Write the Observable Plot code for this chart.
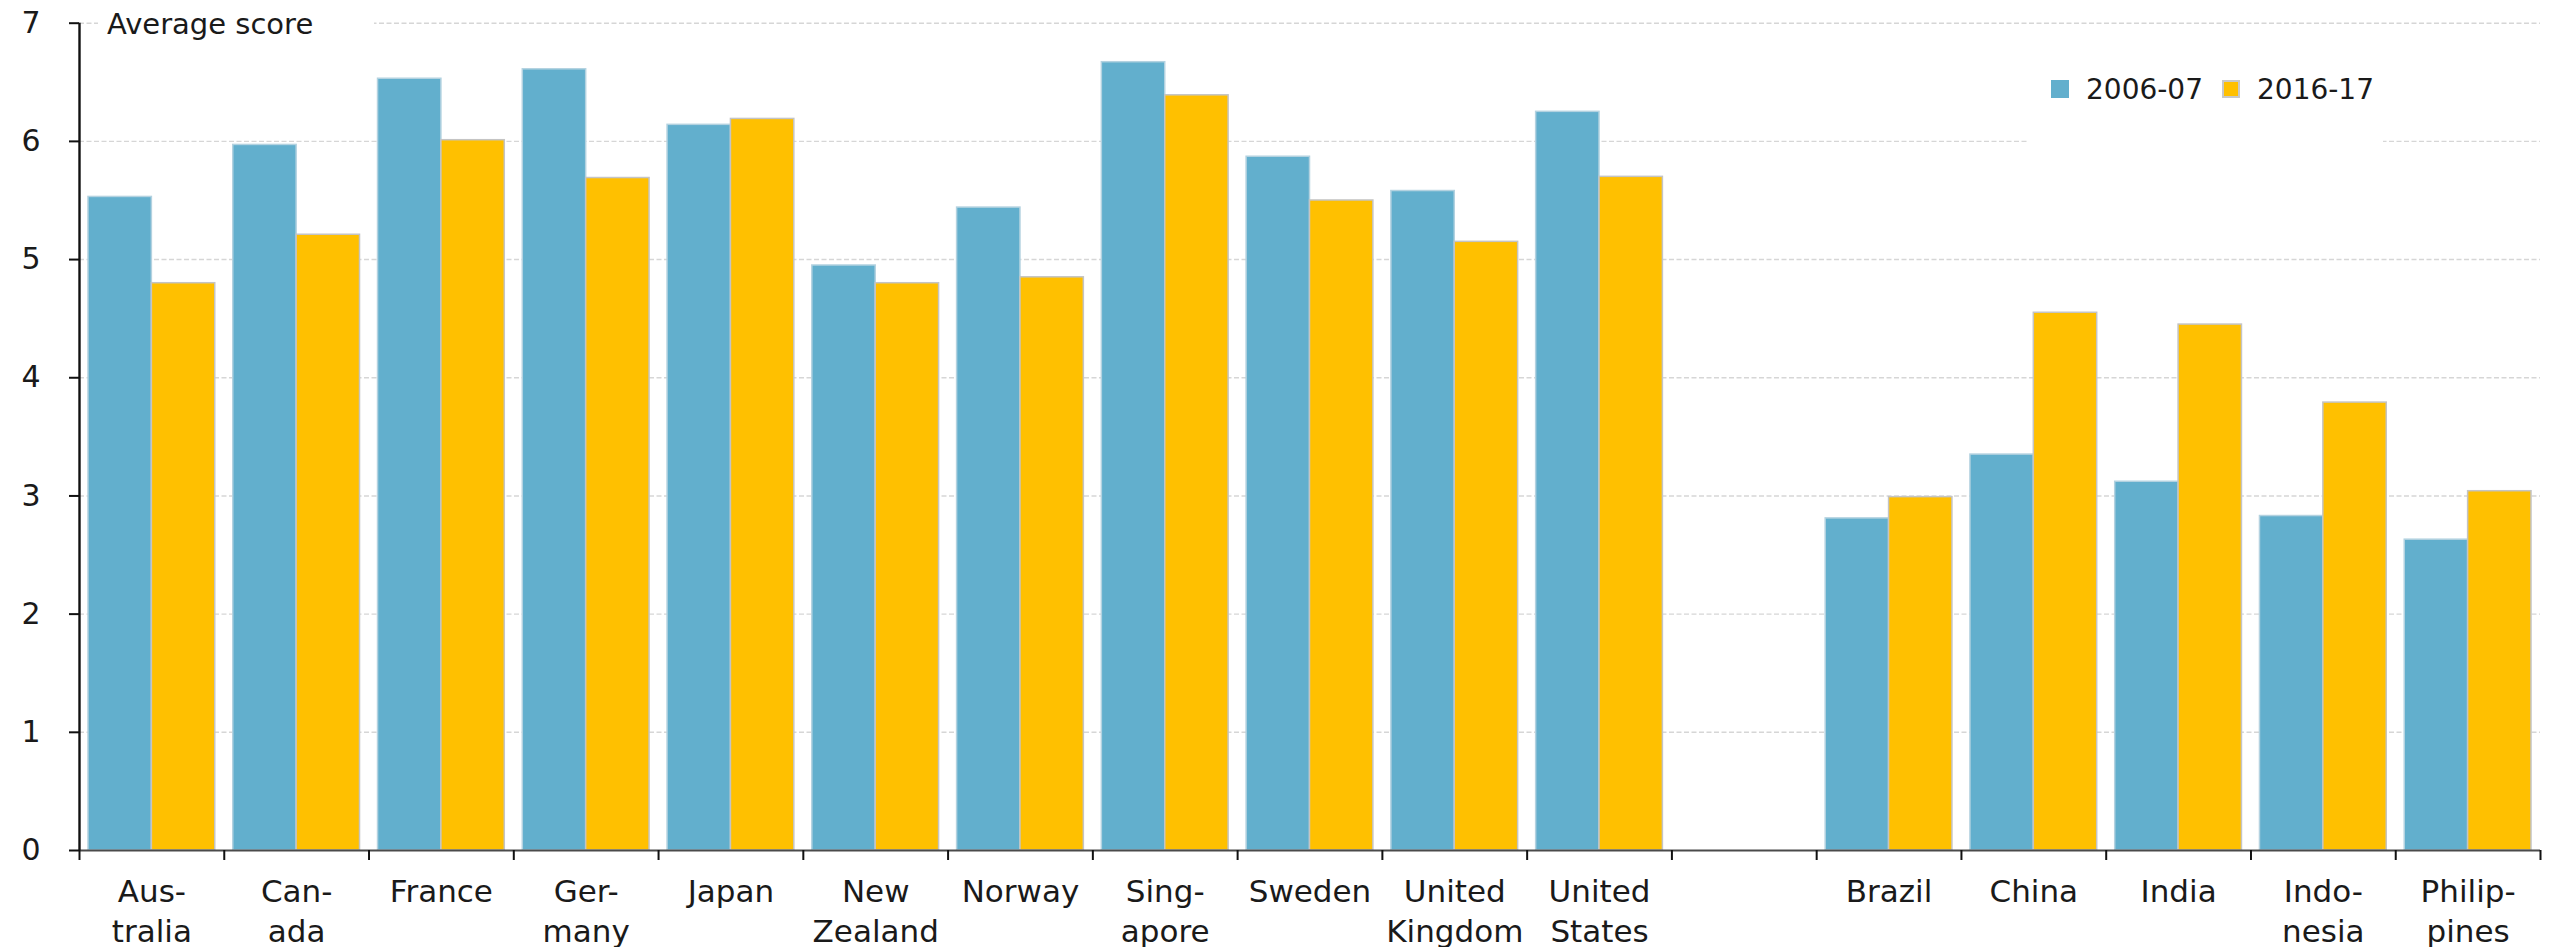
<!DOCTYPE html>
<html>
<head>
<meta charset="utf-8">
<script src="https://cdn.jsdelivr.net/npm/d3@7"></script>
<script src="https://cdn.jsdelivr.net/npm/@observablehq/plot@0.6"></script>
<style>
  html, body { margin: 0; padding: 0; background: #fff; }
  #wrap { position: relative; width: 2552px; height: 947px; overflow: hidden; font-family: "DejaVu Sans", sans-serif; color: #1a1a1a; }
  .box { position: absolute; background: #fff; }
  .lbl { position: absolute; white-space: nowrap; }
  .sw { position: absolute; width: 18px; height: 18px; box-sizing: border-box; }
</style>
</head>
<body>
<div id="wrap"></div>
<script>
// ---- data ----
const categories = ["Australia","Canada","France","Germany","Japan","New Zealand","Norway","Singapore","Sweden","United Kingdom","United States","gap","Brazil","China","India","Indonesia","Philippines"];
const categoryLabels = ["Aus-\ntralia","Can-\nada","France","Ger-\nmany","Japan","New\nZealand","Norway","Sing-\napore","Sweden","United\nKingdom","United\nStates","","Brazil","China","India","Indo-\nnesia","Philip-\npines"];
const countries = ["Australia","Canada","France","Germany","Japan","New Zealand","Norway","Singapore","Sweden","United Kingdom","United States","Brazil","China","India","Indonesia","Philippines"];
const series = ["2006-07", "2016-17"];
const values2006 = [5.53,5.97,6.53,6.61,6.14,4.95,5.44,6.67,5.87,5.58,6.25,2.81,3.35,3.12,2.83,2.63];
const values2016 = [4.80,5.21,6.01,5.69,6.19,4.80,4.85,6.39,5.50,5.15,5.70,2.99,4.55,4.45,3.79,3.04];
const yTicks = [0,1,2,3,4,5,6,7];
const yTitle = "Average score";
const colors = ["#62AFCD", "#FFC000"];

const rows2006 = countries.map((c, i) => ({country: c, value: values2006[i]}));
const rows2016 = countries.map((c, i) => ({country: c, value: values2016[i]}));
const labelOf = new Map(categories.map((c, i) => [c, categoryLabels[i]]));

// ---- layout ----
const W = 2552, H = 947, mL = 79, mR = 12, mT = 22.7, mB = 97;
const bw = (W - mL - mR) / categories.length;
const pad = 9;

const chart = Plot.plot({
  width: W, height: H,
  marginLeft: mL, marginRight: mR, marginTop: mT, marginBottom: mB,
  style: {fontFamily: "DejaVu Sans, sans-serif", color: "#1a1a1a", background: "white"},
  x: {type: "band", domain: categories, padding: 0, round: false},
  y: {domain: [0, 7]},
  marks: [
    Plot.ruleY(yTicks.filter(d => d > 0), {y: d => d, stroke: "#d6d6d6", strokeWidth: 1.4, strokeDasharray: "5,2.5"}),
    Plot.barY(rows2006, {x: "country", y: "value", fill: colors[0], stroke: "#b3d2e0", strokeWidth: 1.5, insetLeft: pad, insetRight: bw / 2}),
    Plot.barY(rows2016, {x: "country", y: "value", fill: colors[1], stroke: "#c4c4c4", strokeWidth: 1.5, insetLeft: bw / 2, insetRight: pad}),
    Plot.ruleY([0], {y: d => d, stroke: "#4a4a4a", strokeWidth: 2.2}),
    // y-axis line
    Plot.ruleX([categories[0]], {x: d => d, y1: () => 0, y2: () => 7, dx: -bw / 2, stroke: "#111", strokeWidth: 2.4}),
    // category boundary ticks
    Plot.ruleX(categories, {x: d => d, y1: () => 0, y2: () => 0, dx: -bw / 2, insetBottom: -10, stroke: "#111", strokeWidth: 2}),
    Plot.ruleX([categories[categories.length - 1]], {x: d => d, y1: () => 0, y2: () => 0, dx: bw / 2, insetBottom: -10, stroke: "#111", strokeWidth: 2}),
    Plot.axisY({ticks: yTicks, tickFormat: d => String(d), tickSize: 10, tickPadding: 29, fontSize: 30, label: null, strokeWidth: 2, stroke: "#111", fill: "#1a1a1a"}),
    Plot.axisX({tickSize: 0, tickPadding: 23, fontSize: 31, lineHeight: 1.29, label: null, tickFormat: d => labelOf.get(d), fill: "#1a1a1a"})
  ]
});

const wrap = document.getElementById("wrap");
wrap.appendChild(chart);

// y title on white box (covers gridline)
const tbox = document.createElement("div");
tbox.className = "box";
Object.assign(tbox.style, {left: "98px", top: "4px", width: "276px", height: "40px", fontSize: "29px", lineHeight: "40px", paddingLeft: "9px", boxSizing: "border-box"});
tbox.textContent = yTitle;
wrap.appendChild(tbox);

// legend inside plot on white box
const lbox = document.createElement("div");
lbox.className = "box";
Object.assign(lbox.style, {left: "2028px", top: "58px", width: "355px", height: "90px"});
wrap.appendChild(lbox);
const swX = [2051, 2222], txX = [2086, 2257];
series.forEach((s, i) => {
  const sw = document.createElement("div");
  sw.className = "sw";
  Object.assign(sw.style, {left: swX[i] + "px", top: "80px", background: colors[i], border: i === 1 ? "2px solid #c8c8c8" : "none"});
  wrap.appendChild(sw);
  const t = document.createElement("div");
  t.className = "lbl";
  Object.assign(t.style, {left: txX[i] + "px", top: "75px", fontSize: "28px", lineHeight: "29px"});
  t.textContent = s;
  wrap.appendChild(t);
});
</script>
</body>
</html>
